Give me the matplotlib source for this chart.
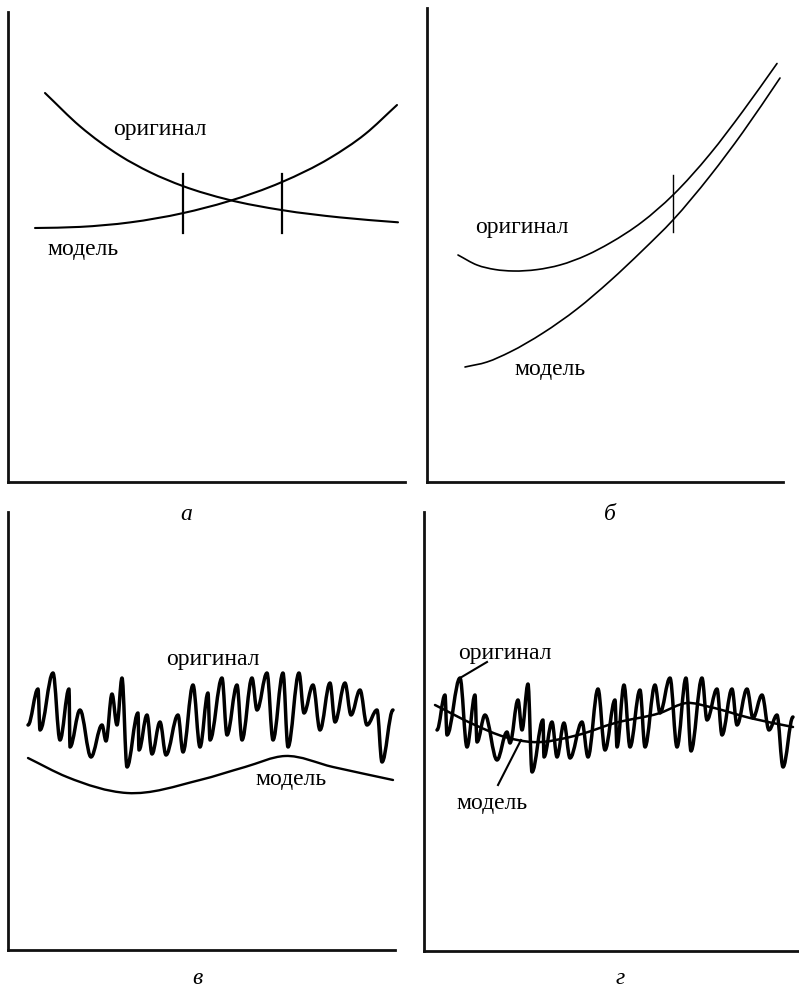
import numpy as np
import matplotlib
matplotlib.use("Agg")
import matplotlib.pyplot as plt
from matplotlib.path import Path
from matplotlib.patches import PathPatch

plt.rcParams['font.family'] = ['Liberation Serif', 'DejaVu Serif']

# ---- panel а: two crossing curves ----
orig_a_x = [37, 72, 112, 142, 175, 220, 274, 332, 390]
orig_a_y = [389, 355.7, 326.3, 309.8, 295.9, 282.4, 271.9, 264.6, 259.7]
model_a_x = [27, 72, 122, 175, 220, 274, 322, 357, 389]
model_a_y = [254, 255.1, 259.6, 268.9, 280.6, 300, 324, 347.8, 377]
marks_a_x = [175, 274]
marks_a_y = [249, 308]

# ---- panel б: roughly parallel curves ----
orig_b_x = [31, 50, 68, 86, 110, 133, 160, 183, 215, 246, 283, 316, 350]
orig_b_y = [227, 217, 212.5, 211, 212.4, 217, 227, 239, 260, 287, 328, 371, 418.5]
model_b_x = [38, 60, 83, 116, 150, 183, 216, 246, 283, 316, 353]
model_b_y = [115, 120, 130, 149, 173, 201, 232, 262, 306, 350, 404]
marks_b_x = [246]
marks_b_y = [250, 307]

# ---- panel в: noisy original, smooth model below it ----
orig_c_x = [20, 30, 32, 45, 52, 61, 62, 72, 83, 94, 98, 104, 109, 114, 119,
            130, 131, 139, 144, 152, 158, 170, 175, 185, 192, 200, 202, 214,
            219, 229, 234, 244, 249, 259, 265, 275, 280, 291, 296, 305, 312,
            322, 327, 337, 343, 352, 359, 369, 374, 385]
orig_c_y = [225, 261, 220, 277, 210, 261, 203, 240, 193, 225, 209, 256, 225,
            272, 183, 237, 200, 235, 196, 228, 195, 235, 198, 265, 203, 257,
            210, 272, 215, 265, 210, 272, 240, 277, 210, 277, 203, 277, 237,
            265, 220, 267, 228, 267, 235, 260, 225, 240, 188, 240]
model_c_x = [20, 59, 119, 192, 237, 277, 325, 385]
model_c_y = [192, 173, 157, 170, 183, 194, 183, 170]

# ---- panel г: noisy original around a smooth model ----
orig_d_x = [13, 21, 23, 36, 43, 51, 53, 61, 73, 83, 86, 94, 98, 104, 108,
            119, 120, 128, 133, 140, 146, 158, 164, 174, 181, 191, 193, 200,
            206, 216, 221, 231, 236, 246, 253, 262, 267, 278, 283, 293, 298,
            308, 313, 323, 329, 338, 345, 353, 359, 369]
orig_d_y = [221, 256, 216, 273, 204, 256, 209, 236, 191, 219, 208, 251, 221,
            267, 179, 231, 194, 229, 194, 228, 193, 229, 194, 262, 201, 251,
            204, 266, 204, 261, 204, 266, 238, 273, 204, 273, 200, 273, 231,
            262, 216, 262, 226, 262, 233, 256, 221, 236, 184, 234]
model_d_x = [11, 51, 81, 108, 154, 191, 236, 263, 286, 326, 369]
model_d_y = [246, 226, 214, 209, 216, 228, 238, 248, 244, 233, 224]

labels = ['оригинал', 'модель']
panel_letters = ['а', 'б', 'в', 'г']

W, H = 799, 990
fig = plt.figure(figsize=(W / 100, H / 100), dpi=100)


def make_axes(ox, oy, w, h):
    """Axes whose data units are pixels, origin at the axis corner (ox, oy)."""
    ax = fig.add_axes([ox / W, (H - oy) / H, w / W, h / H])
    ax.set_xlim(0, w)
    ax.set_ylim(0, h)
    ax.set_facecolor('none')
    for s in ('top', 'right'):
        ax.spines[s].set_visible(False)
    for s in ('left', 'bottom'):
        ax.spines[s].set_linewidth(2.0)
        ax.spines[s].set_color('#111111')
        ax.spines[s].set_capstyle('projecting')
    ax.set_xticks([])
    ax.set_yticks([])
    return ax


def smooth_path(x, y):
    """Cubic Hermite curve in x through the points, as Bezier segments."""
    x = np.asarray(x, float)
    y = np.asarray(y, float)
    n = len(x)
    d = np.diff(y) / np.diff(x)
    m = np.empty(n)
    m[0], m[-1] = d[0], d[-1]
    for i in range(1, n - 1):
        h0, h1 = x[i] - x[i - 1], x[i + 1] - x[i]
        m[i] = (d[i - 1] * h1 + d[i] * h0) / (h0 + h1)
    verts = [(x[0], y[0])]
    codes = [Path.MOVETO]
    for i in range(n - 1):
        h = (x[i + 1] - x[i]) / 3
        verts += [(x[i] + h, y[i] + m[i] * h),
                  (x[i + 1] - h, y[i + 1] - m[i + 1] * h),
                  (x[i + 1], y[i + 1])]
        codes += [Path.CURVE4] * 3
    return Path(verts, codes)


def wave_path(x, y, k=0.36):
    """Oscillation through alternating peaks and troughs (flat at extrema)."""
    verts = [(x[0], y[0])]
    codes = [Path.MOVETO]
    for i in range(len(x) - 1):
        dx = x[i + 1] - x[i]
        verts += [(x[i] + k * dx, y[i]), (x[i + 1] - k * dx, y[i + 1]),
                  (x[i + 1], y[i + 1])]
        codes += [Path.CURVE4] * 3
    return Path(verts, codes)


def draw(ax, path, lw):
    ax.add_patch(PathPatch(path, fill=False, lw=lw, edgecolor='black',
                           capstyle='round', joinstyle='round', clip_on=False))


FS = 17

# panel а
ax = make_axes(8, 482, 397, 470)
draw(ax, smooth_path(orig_a_x, orig_a_y), 1.5)
draw(ax, smooth_path(model_a_x, model_a_y), 1.5)
for xm in marks_a_x:
    ax.plot([xm, xm], marks_a_y, color='black', lw=1.6, clip_on=False)
ax.text(152, 352, labels[0], fontsize=FS, ha='center', va='center')
ax.text(75, 232, labels[1], fontsize=FS, ha='center', va='center')

# panel б
ax = make_axes(427, 482, 356, 474)
draw(ax, smooth_path(orig_b_x, orig_b_y), 1.2)
draw(ax, smooth_path(model_b_x, model_b_y), 1.2)
for xm in marks_b_x:
    ax.plot([xm, xm], marks_b_y, color='black', lw=1.0, clip_on=False)
ax.text(95, 254, labels[0], fontsize=FS, ha='center', va='center')
ax.text(123, 112, labels[1], fontsize=FS, ha='center', va='center')

# panel в
ax = make_axes(8, 950, 387, 438)
draw(ax, wave_path(orig_c_x, orig_c_y), 2.5)
draw(ax, smooth_path(model_c_x, model_c_y), 1.7)
ax.text(205, 290, labels[0], fontsize=FS, ha='center', va='center')
ax.text(283, 170, labels[1], fontsize=FS, ha='center', va='center')

# panel г
ax = make_axes(424, 951, 375, 439)
draw(ax, wave_path(orig_d_x, orig_d_y), 2.5)
draw(ax, smooth_path(model_d_x, model_d_y), 1.8)
ax.plot([36, 63], [273, 289], color='black', lw=1.5, clip_on=False)
ax.plot([74, 97], [166, 211], color='black', lw=1.5, clip_on=False)
ax.text(81, 298, labels[0], fontsize=FS, ha='center', va='center')
ax.text(68, 148, labels[1], fontsize=FS, ha='center', va='center')

# panel letters under each plot
for (px, py), letter in zip([(186, 515), (610, 515), (197, 978), (620, 978)],
                            panel_letters):
    fig.text(px / W, 1 - py / H, letter, fontsize=FS, style='italic',
             ha='center', va='center')

fig.savefig('out.png', dpi=100, facecolor='white')
